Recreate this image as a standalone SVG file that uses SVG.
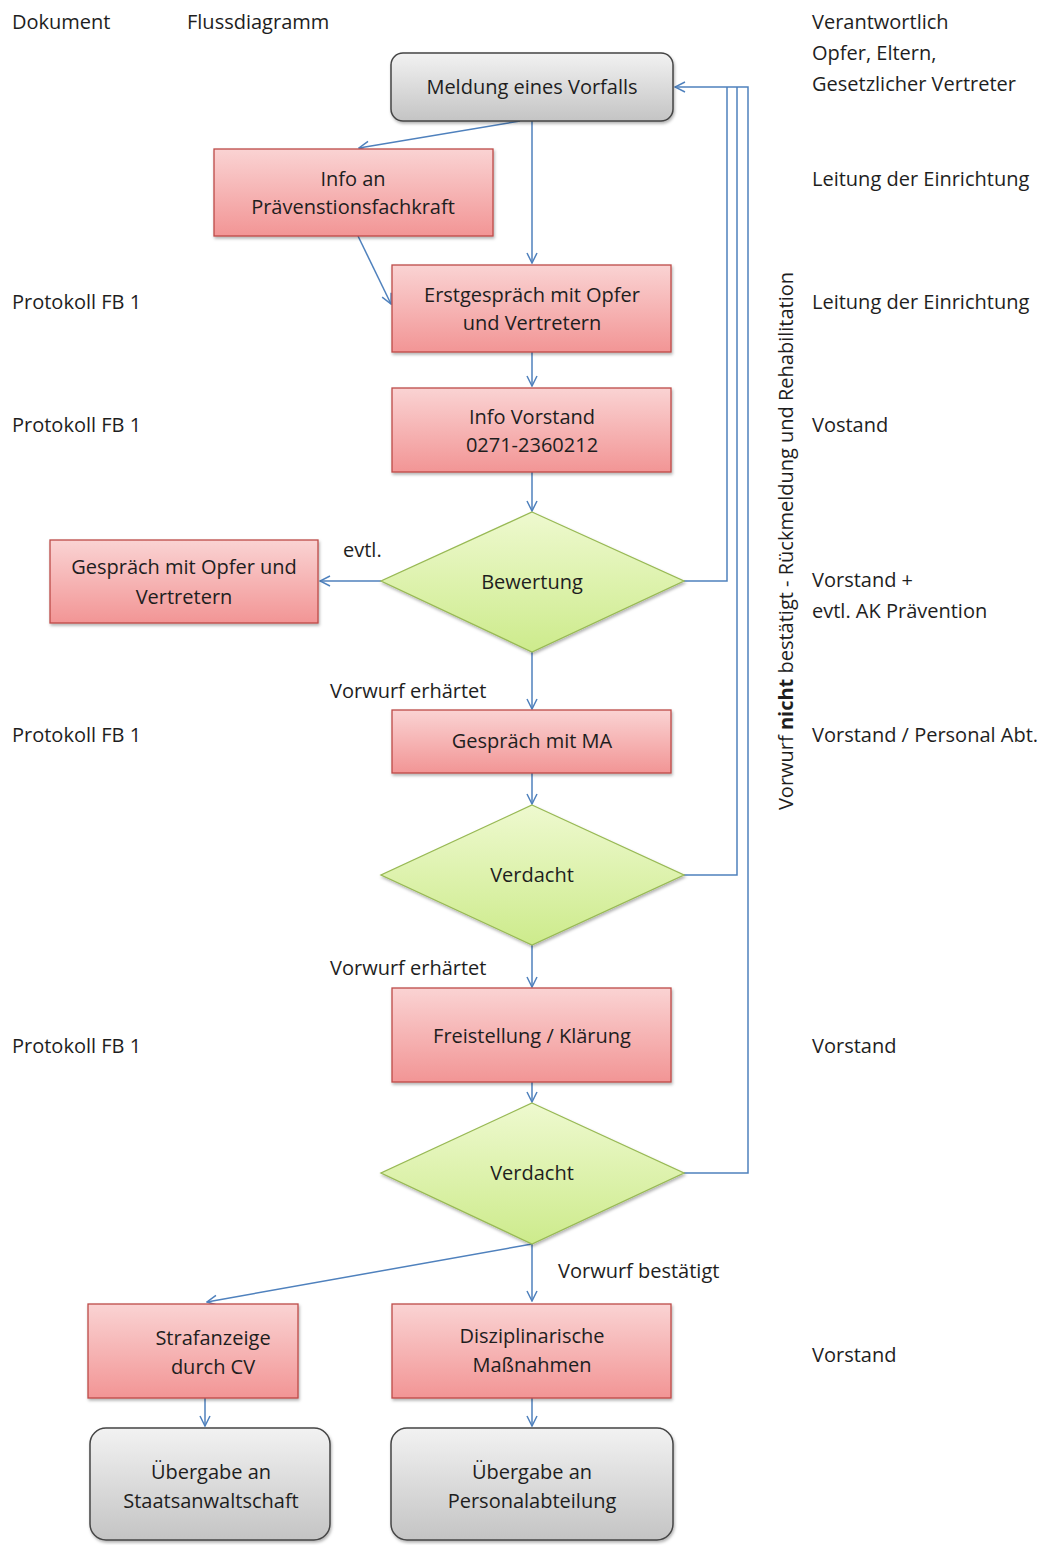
<svg xmlns="http://www.w3.org/2000/svg" width="1051" height="1545" viewBox="0 0 1051 1545">
<style>
text{font-family:"Open Sans","Noto Sans","Liberation Sans",sans-serif;font-size:20px;fill:#1e1e1e}
.c{text-anchor:middle}
.gray{fill:url(#gGray);stroke:#454545;stroke-width:1.5}
.red{fill:url(#gRed);stroke:#be4b48;stroke-width:1.3}
.dia{fill:url(#gGreen);stroke:#98b954;stroke-width:1.3}
.ln{fill:none;stroke:#4f81bd;stroke-width:1.5}
.ar{fill:none;stroke:#4f81bd;stroke-width:1.5;marker-end:url(#arr)}
</style>
<defs>
<linearGradient id="gGray" x1="0" y1="0" x2="0" y2="1"><stop offset="0" stop-color="#f2f2f2"/><stop offset="1" stop-color="#c4c4c4"/></linearGradient>
<linearGradient id="gRed" x1="0" y1="0" x2="0" y2="1"><stop offset="0" stop-color="#fad3d3"/><stop offset="1" stop-color="#f29595"/></linearGradient>
<linearGradient id="gGreen" x1="0" y1="0" x2="0" y2="1"><stop offset="0" stop-color="#eef9cf"/><stop offset="1" stop-color="#cdeb8c"/></linearGradient>
<filter id="sh" x="-10%" y="-10%" width="120%" height="130%"><feDropShadow dx="1" dy="2" stdDeviation="1.5" flood-color="#000" flood-opacity="0.3"/></filter>
<marker id="arr" viewBox="0 0 12 12" refX="11" refY="6" markerWidth="12" markerHeight="12" markerUnits="userSpaceOnUse" orient="auto"><path d="M1,1 L11,6 L1,11" fill="none" stroke="#4f81bd" stroke-width="1.5"/></marker>
</defs>
<rect width="1051" height="1545" fill="#fff"/>

<g id="headers">
<text x="12" y="29">Dokument</text>
<text x="187" y="29">Flussdiagramm</text>
<text x="812" y="29">Verantwortlich</text>
<text x="812" y="60">Opfer, Eltern,</text>
<text x="812" y="91">Gesetzlicher Vertreter</text>
<text x="812" y="186">Leitung der Einrichtung</text>
<text x="812" y="309">Leitung der Einrichtung</text>
<text x="812" y="432">Vostand</text>
<text x="812" y="587">Vorstand +</text>
<text x="812" y="618">evtl. AK Prävention</text>
<text x="812" y="742">Vorstand / Personal Abt.</text>
<text x="812" y="1053">Vorstand</text>
<text x="812" y="1362">Vorstand</text>
<text x="12" y="309">Protokoll FB 1</text>
<text x="12" y="432">Protokoll FB 1</text>
<text x="12" y="742">Protokoll FB 1</text>
<text x="12" y="1053">Protokoll FB 1</text>
</g>

<g id="connectors">
<path class="ar" d="M532,121 V263"/>
<path class="ar" d="M520,121 L359,148"/>
<path class="ar" d="M358,236 L391,304"/>
<path class="ar" d="M532,352 V386"/>
<path class="ar" d="M532,472 V511"/>
<path class="ar" d="M381,581 H320"/>
<path class="ar" d="M532,652 V709"/>
<path class="ar" d="M532,773 V804"/>
<path class="ar" d="M532,945 V987"/>
<path class="ar" d="M532,1082 V1102"/>
<path class="ar" d="M532,1244 V1301"/>
<path class="ar" d="M532,1244 L207,1302"/>
<path class="ar" d="M205,1398 V1426"/>
<path class="ar" d="M532,1398 V1426"/>
<path class="ln" d="M684,581 H727 V87"/>
<path class="ln" d="M684,875 H737 V87"/>
<path class="ar" d="M684,1173 H748 V87 H675"/>
</g>

<g id="n-meldung"><rect class="gray" x="391" y="53" width="282" height="68" rx="12" filter="url(#sh)"/><text class="c" x="532" y="94">Meldung eines Vorfalls</text></g>
<g id="n-info-an"><rect class="red" x="214" y="149" width="279" height="87" filter="url(#sh)"/><text class="c" x="353" y="186">Info an</text><text class="c" x="353" y="214">Prävenstionsfachkraft</text></g>
<g id="n-erstgespraech"><rect class="red" x="392" y="265" width="279" height="87" filter="url(#sh)"/><text class="c" x="532" y="302">Erstgespräch mit Opfer</text><text class="c" x="532" y="330">und Vertretern</text></g>
<g id="n-info-vorstand"><rect class="red" x="392" y="388" width="279" height="84" filter="url(#sh)"/><text class="c" x="532" y="424">Info Vorstand</text><text class="c" x="532" y="452">0271-2360212</text></g>
<g id="n-bewertung"><polygon class="dia" points="532,512 684,581 532,652 381,581" filter="url(#sh)"/><text class="c" x="532" y="589">Bewertung</text></g>
<g id="n-gespraech-opfer"><rect class="red" x="50" y="540" width="268" height="83" filter="url(#sh)"/><text class="c" x="184" y="574">Gespräch mit Opfer und</text><text class="c" x="184" y="604">Vertretern</text></g>
<text x="343" y="557">evtl.</text>
<text x="330" y="698">Vorwurf erhärtet</text>
<g id="n-gespraech-ma"><rect class="red" x="392" y="710" width="279" height="63" filter="url(#sh)"/><text class="c" x="532" y="748">Gespräch mit MA</text></g>
<g id="n-verdacht1"><polygon class="dia" points="532,805 684,875 532,945 381,875" filter="url(#sh)"/><text class="c" x="532" y="882">Verdacht</text></g>
<text x="330" y="975">Vorwurf erhärtet</text>
<g id="n-freistellung"><rect class="red" x="392" y="988" width="279" height="94" filter="url(#sh)"/><text class="c" x="532" y="1043">Freistellung / Klärung</text></g>
<g id="n-verdacht2"><polygon class="dia" points="532,1103 684,1173 532,1244 381,1173" filter="url(#sh)"/><text class="c" x="532" y="1180">Verdacht</text></g>
<text x="558" y="1278">Vorwurf bestätigt</text>
<g id="n-strafanzeige"><rect class="red" x="88" y="1304" width="210" height="94" filter="url(#sh)"/><text class="c" x="213" y="1345">Strafanzeige</text><text class="c" x="213" y="1374">durch CV</text></g>
<g id="n-disziplinar"><rect class="red" x="392" y="1304" width="279" height="94" filter="url(#sh)"/><text class="c" x="532" y="1343">Disziplinarische</text><text class="c" x="532" y="1372">Maßnahmen</text></g>
<g id="n-staatsanwalt"><rect class="gray" x="90" y="1428" width="240" height="112" rx="16" filter="url(#sh)"/><text class="c" x="211" y="1479">Übergabe an</text><text class="c" x="211" y="1508">Staatsanwaltschaft</text></g>
<g id="n-personal"><rect class="gray" x="391" y="1428" width="282" height="112" rx="16" filter="url(#sh)"/><text class="c" x="532" y="1479">Übergabe an</text><text class="c" x="532" y="1508">Personalabteilung</text></g>

<text transform="translate(793,541) rotate(-90)" class="c">Vorwurf <tspan font-weight="bold">nicht</tspan> bestätigt - Rückmeldung und Rehabilitation</text>
</svg>
